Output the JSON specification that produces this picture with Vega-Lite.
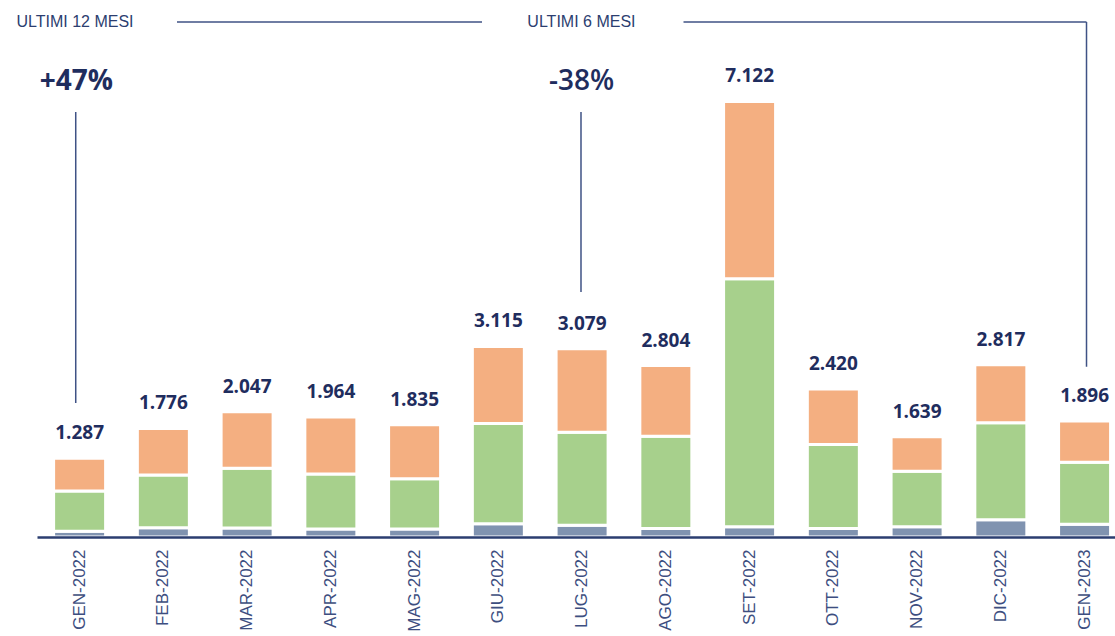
{
  "$schema": "https://vega.github.io/schema/vega-lite/v6.json",
  "width": 1078,
  "height": 537,
  "autosize": {"type": "none"},
  "padding": {"left": 37, "top": 0, "right": 0, "bottom": 99},
  "background": "white",
  "config": {
    "view": {"stroke": null},
    "locale": {"number": {"decimal": ",", "thousands": ".", "grouping": [3], "currency": ["€", ""]}}
  },
  "datasets": {
    "mesi": [
      {"mese": "GEN-2022", "serie": "Serie 1", "valore": 96},
      {"mese": "GEN-2022", "serie": "Serie 2", "valore": 655},
      {"mese": "GEN-2022", "serie": "Serie 3", "valore": 536},
      {"mese": "FEB-2022", "serie": "Serie 1", "valore": 151},
      {"mese": "FEB-2022", "serie": "Serie 2", "valore": 863},
      {"mese": "FEB-2022", "serie": "Serie 3", "valore": 762},
      {"mese": "MAR-2022", "serie": "Serie 1", "valore": 149},
      {"mese": "MAR-2022", "serie": "Serie 2", "valore": 977},
      {"mese": "MAR-2022", "serie": "Serie 3", "valore": 921},
      {"mese": "APR-2022", "serie": "Serie 1", "valore": 132},
      {"mese": "APR-2022", "serie": "Serie 2", "valore": 898},
      {"mese": "APR-2022", "serie": "Serie 3", "valore": 934},
      {"mese": "MAG-2022", "serie": "Serie 1", "valore": 132},
      {"mese": "MAG-2022", "serie": "Serie 2", "valore": 819},
      {"mese": "MAG-2022", "serie": "Serie 3", "valore": 884},
      {"mese": "GIU-2022", "serie": "Serie 1", "valore": 216},
      {"mese": "GIU-2022", "serie": "Serie 2", "valore": 1640},
      {"mese": "GIU-2022", "serie": "Serie 3", "valore": 1259},
      {"mese": "LUG-2022", "serie": "Serie 1", "valore": 194},
      {"mese": "LUG-2022", "serie": "Serie 2", "valore": 1520},
      {"mese": "LUG-2022", "serie": "Serie 3", "valore": 1365},
      {"mese": "AGO-2022", "serie": "Serie 1", "valore": 137},
      {"mese": "AGO-2022", "serie": "Serie 2", "valore": 1509},
      {"mese": "AGO-2022", "serie": "Serie 3", "valore": 1158},
      {"mese": "SET-2022", "serie": "Serie 1", "valore": 167},
      {"mese": "SET-2022", "serie": "Serie 2", "valore": 4056},
      {"mese": "SET-2022", "serie": "Serie 3", "valore": 2899},
      {"mese": "OTT-2022", "serie": "Serie 1", "valore": 138},
      {"mese": "OTT-2022", "serie": "Serie 2", "valore": 1374},
      {"mese": "OTT-2022", "serie": "Serie 3", "valore": 908},
      {"mese": "NOV-2022", "serie": "Serie 1", "valore": 167},
      {"mese": "NOV-2022", "serie": "Serie 2", "valore": 907},
      {"mese": "NOV-2022", "serie": "Serie 3", "valore": 565},
      {"mese": "DIC-2022", "serie": "Serie 1", "valore": 284},
      {"mese": "DIC-2022", "serie": "Serie 2", "valore": 1585},
      {"mese": "DIC-2022", "serie": "Serie 3", "valore": 948},
      {"mese": "GEN-2023", "serie": "Serie 1", "valore": 207},
      {"mese": "GEN-2023", "serie": "Serie 2", "valore": 1016},
      {"mese": "GEN-2023", "serie": "Serie 3", "valore": 673}
    ],
    "testi": [
      {"testo": "ULTIMI 12 MESI", "tipo": "titolo", "xi": -0.054, "yv": 8420},
      {"testo": "ULTIMI 6 MESI", "tipo": "titolo", "xi": 5.993, "yv": 8420},
      {"testo": "+47%", "tipo": "aumento", "xi": -0.038, "yv": 7439},
      {"testo": "-38%", "tipo": "calo", "xi": 5.994, "yv": 7439}
    ],
    "linee": [
      {"x1": 1.164, "x2": 4.806, "y1": 8420, "y2": 8420},
      {"x1": 7.212, "x2": 12.024, "y1": 8420, "y2": 8420},
      {"x1": 12.024, "x2": 12.024, "y1": 8420, "y2": 2784},
      {"x1": -0.045, "x2": -0.045, "y1": 6949, "y2": 2191},
      {"x1": 5.988, "x2": 5.988, "y1": 6949, "y2": 4006}
    ]
  },
  "layer": [
    {
      "data": {"name": "mesi"},
      "encoding": {
        "x": {
          "field": "mese",
          "type": "nominal",
          "sort": null,
          "scale": {"paddingInner": 0.379, "paddingOuter": 0.1255, "align": 0.79},
          "axis": {
            "title": null,
            "ticks": false,
            "grid": false,
            "zindex": 1,
            "domainColor": "#2b3e70",
            "domainWidth": 2.5,
            "labelAngle": -90,
            "labelAlign": "right",
            "labelBaseline": "middle",
            "labelFont": "Liberation Sans",
            "labelFontSize": 17,
            "labelColor": "#3d4e80",
            "labelPadding": 12
          }
        }
      },
      "layer": [
        {
          "mark": {"type": "bar", "stroke": "white", "strokeWidth": 3},
          "encoding": {
            "y": {"field": "valore", "type": "quantitative", "stack": "zero", "scale": {"domain": [0, 8780], "nice": false}, "axis": null},
            "color": {
              "field": "serie",
              "type": "nominal",
              "scale": {"domain": ["Serie 1", "Serie 2", "Serie 3"], "range": ["#8093b0", "#a7d08c", "#f4af81"]},
              "legend": null
            },
            "order": {"field": "serie", "sort": "ascending"}
          }
        },
        {
          "mark": {"type": "text", "baseline": "alphabetic", "dy": -19, "font": "Open Sans", "fontSize": 19, "fontWeight": "bold", "color": "#1f2d5e"},
          "encoding": {
            "y": {"aggregate": "sum", "field": "valore", "type": "quantitative", "axis": null},
            "text": {"aggregate": "sum", "field": "valore", "type": "quantitative", "format": ",.0f"}
          }
        }
      ]
    },
    {
      "encoding": {
        "x": {"field": "xi", "type": "quantitative", "scale": {"domain": [-0.5075, 12.3642], "nice": false, "zero": false}, "axis": null}
      },
      "layer": [
        {
          "data": {"name": "linee"},
          "mark": {"type": "rule", "color": "#3f5285", "strokeWidth": 1.5},
          "encoding": {
            "x": {"field": "x1", "type": "quantitative", "scale": {"domain": [-0.5075, 12.3642], "nice": false, "zero": false}, "axis": null},
            "x2": {"field": "x2"},
            "y": {"field": "y1", "type": "quantitative", "axis": null},
            "y2": {"field": "y2"}
          }
        },
        {
          "data": {"name": "testi"},
          "transform": [{"filter": "datum.tipo === 'titolo'"}],
          "mark": {"type": "text", "baseline": "middle", "align": "center", "font": "Liberation Sans", "fontSize": 16, "color": "#2c3e70"},
          "encoding": {
            "y": {"field": "yv", "type": "quantitative", "axis": null},
            "text": {"field": "testo"}
          }
        },
        {
          "data": {"name": "testi"},
          "transform": [{"filter": "datum.tipo === 'aumento'"}],
          "mark": {"type": "text", "baseline": "middle", "align": "center", "font": "Open Sans", "fontSize": 28, "fontWeight": "bold", "color": "#1f2d5e"},
          "encoding": {
            "y": {"field": "yv", "type": "quantitative", "axis": null},
            "text": {"field": "testo"}
          }
        },
        {
          "data": {"name": "testi"},
          "transform": [{"filter": "datum.tipo === 'calo'"}],
          "mark": {"type": "text", "baseline": "middle", "align": "center", "font": "Open Sans", "fontSize": 28, "fontWeight": 600, "color": "#1f2d5e"},
          "encoding": {
            "y": {"field": "yv", "type": "quantitative", "axis": null},
            "text": {"field": "testo"}
          }
        }
      ]
    }
  ],
  "resolve": {"scale": {"x": "independent"}}
}
